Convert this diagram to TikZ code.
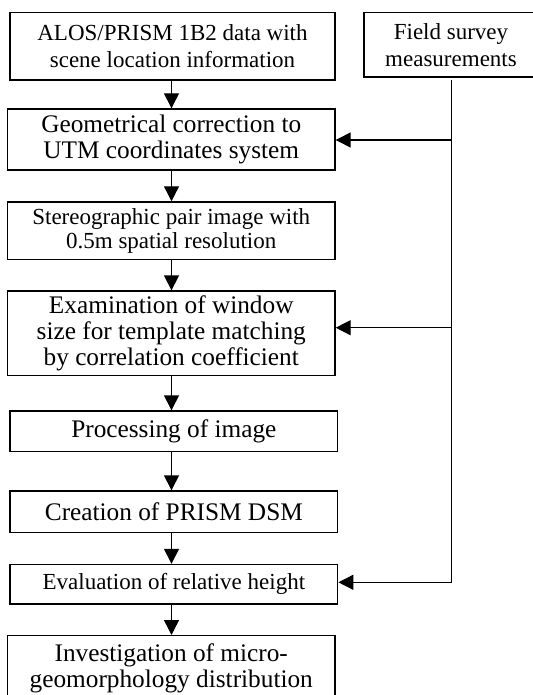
\documentclass[tikz,border=0pt]{standalone}
\usepackage{fontspec}
\setmainfont{Liberation Serif}
\usetikzlibrary{arrows.meta}
\newcommand\fsm{\fontsize{23}{27}\selectfont}
\newcommand\fsmb{\fontsize{23}{24}\selectfont}
\newcommand\flg{\fontsize{25.3}{26}\selectfont}
\tikzset{
  box/.style={draw, line width=1.4pt, inner sep=0pt, align=center},
  arr/.style={line width=1.4pt, -{Triangle[length=15pt,width=15pt]}},
  link/.style={line width=1.4pt},
}
\begin{document}
\begin{tikzpicture}[x=1pt,y=-1pt]
\useasboundingbox (0,0) rectangle (532,695);
\node[box, minimum width=325pt, minimum height=67.7pt, font=\fsm] (b1) at (172.5,46.2)
  {ALOS/PRISM 1B2 data with\\scene location information};
\node[box, minimum width=174pt, minimum height=64.7pt, font=\fsm] (fs) at (451,44.7)
  {Field survey\\measurements};
\node[box, minimum width=327.5pt, minimum height=61pt, font=\flg] (b2) at (171.25,139.5)
  {Geometrical correction to\\UTM coordinates system};
\node[box, minimum width=327.5pt, minimum height=57.3pt, font=\fsmb] (b3) at (171.25,230.6)
  {Stereographic pair image with\\0.5m spatial resolution};
\node[box, minimum width=327.5pt, minimum height=84.7pt, font=\flg] (b4) at (171.25,333.4)
  {Examination of window\\size for template matching\\by correlation coefficient};
\node[box, minimum width=327.7pt, minimum height=40.7pt, font=\flg] (b5) at (173.85,431.35)
  {Processing of image};
\node[box, minimum width=327.7pt, minimum height=41.7pt, font=\flg] (b6) at (173.85,511.85)
  {Creation of PRISM DSM};
\node[box, minimum width=327.7pt, minimum height=39.5pt, font=\fsm] (b7) at (173.85,584.25)
  {Evaluation of relative height};
\node[box, minimum width=327.5pt, minimum height=64.3pt, font=\flg] (b8) at (171.25,667.85)
  {Investigation of micro-\\geomorphology distribution};
% main axis
\coordinate (ax) at (171.5,0);
\foreach \a/\b in {b1/b2,b2/b3,b3/b4,b4/b5,b5/b6,b6/b7,b7/b8}
  \draw[arr] (\a.south -| ax) -- (\b.north -| ax);
% field survey feedback line
\coordinate (fx) at (451.5,0);
\coordinate (top) at ([yshift=-2pt]fs.south -| fx);
\coordinate (j1) at (451.5,140);
\coordinate (j2) at (451.5,327.7);
\coordinate (j3) at (451.5,582.3);
\draw[link] (top) -- (j3);
\draw[arr] (j1) -- (j1 -| b2.east);
\draw[arr] (j2) -- (j2 -| b4.east);
\draw[arr] (j3) -- (j3 -| b7.east);
\end{tikzpicture}
\end{document}
